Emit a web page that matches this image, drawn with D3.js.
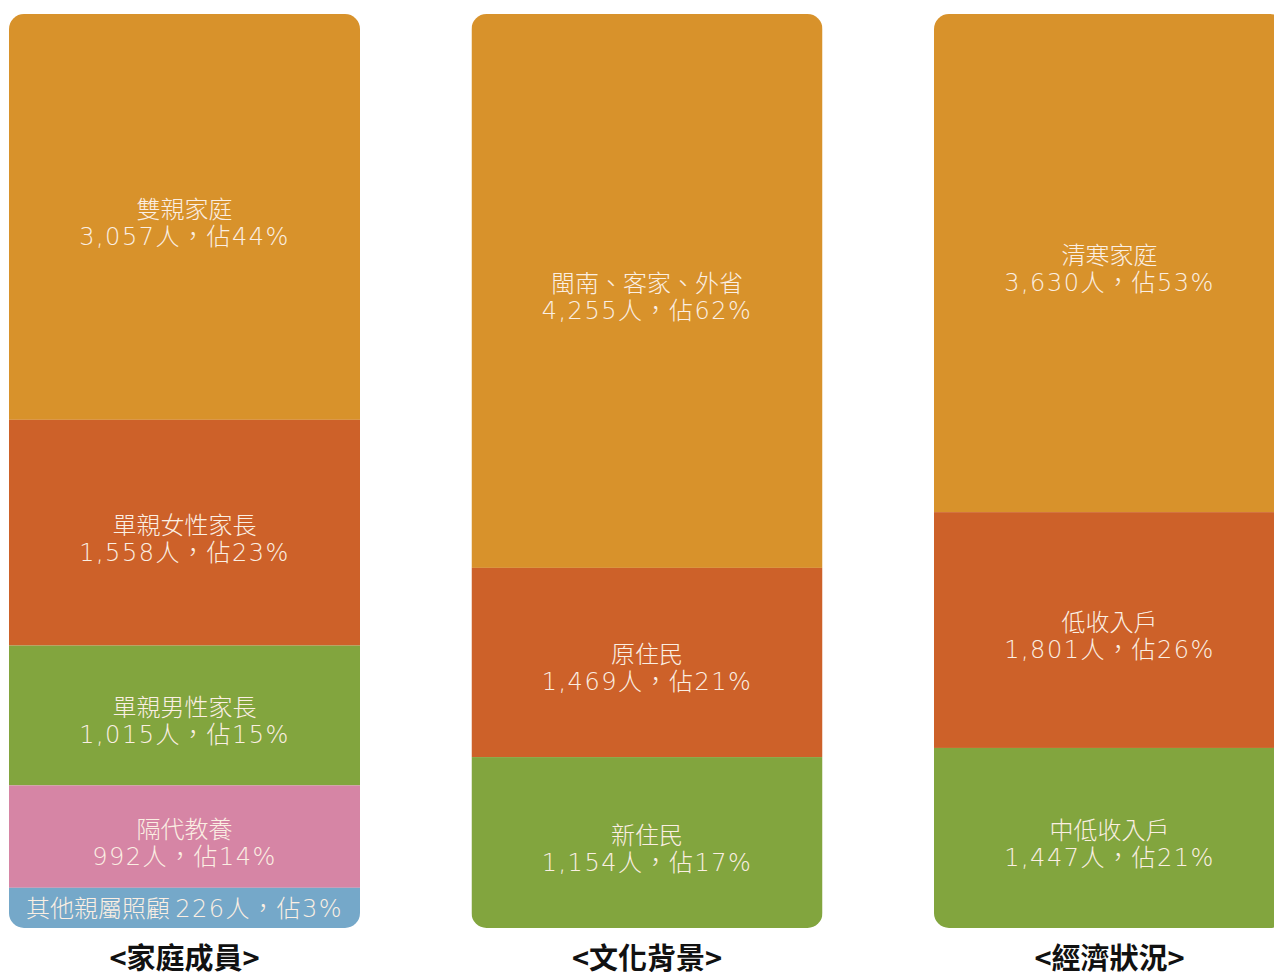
<!DOCTYPE html>
<html>
<head>
<meta charset="utf-8">
<script src="https://cdn.jsdelivr.net/npm/d3@7"></script>
<style>
  html, body { margin: 0; padding: 0; background: #fff; }
  svg { display: block; }
</style>
</head>
<body>
<svg id="chart" width="1274" height="972"></svg>
<script>
// ---- data ----
const groups = ["<家庭成員>", "<文化背景>", "<經濟狀況>"];

const familyLabels = ["雙親家庭", "單親女性家長", "單親男性家長", "隔代教養", "其他親屬照顧"];
const familyCounts = [3057, 1558, 1015, 992, 226];
const familyPct    = [44, 23, 15, 14, 3];
// share of column height as drawn in the reference (%)
const familyShare  = [44.4, 24.7, 15.3, 11.2, 4.4];

const cultureLabels = ["閩南、客家、外省", "原住民", "新住民"];
const cultureCounts = [4255, 1469, 1154];
const culturePct    = [62, 21, 17];
const cultureShare  = [60.6, 20.7, 18.7];

const economyLabels = ["清寒家庭", "低收入戶", "中低收入戶"];
const economyCounts = [3630, 1801, 1447];
const economyPct    = [53, 26, 21];
const economyShare  = [54.5, 25.8, 19.7];

const segColors = ["#D8922B", "#CD6129", "#82A53E", "#D685A5", "#75A8C9"];

// ---- build ----
const columns = [
  {title: groups[0], labels: familyLabels, counts: familyCounts, pct: familyPct, share: familyShare},
  {title: groups[1], labels: cultureLabels, counts: cultureCounts, pct: culturePct, share: cultureShare},
  {title: groups[2], labels: economyLabels, counts: economyCounts, pct: economyPct, share: economyShare}
];

const svg = d3.select("#chart");
const fmt = d3.format(",");

const colWidth = 351;
const x = d3.scalePoint().domain(groups).range([9, 934]);
const y = d3.scaleLinear().domain([0, 100]).range([14, 928]);
const radius = 15;

const labelFont = "'Noto Sans CJK TC', 'Noto Sans', sans-serif";
const numFont = "'DejaVu Sans', 'Noto Sans CJK TC', sans-serif";

const defs = svg.append("defs");

columns.forEach((col, ci) => {
  const x0 = x(col.title);
  const clipId = "clip" + ci;
  defs.append("clipPath").attr("id", clipId)
    .append("rect")
    .attr("x", x0).attr("y", y(0))
    .attr("width", colWidth).attr("height", y(100) - y(0))
    .attr("rx", radius).attr("ry", radius);

  let cum = 0;
  const segs = col.share.map((s, i) => {
    const d = {i, start: cum, end: cum + s, label: col.labels[i], count: col.counts[i], pct: col.pct[i]};
    cum += s;
    return d;
  });

  const g = svg.append("g").attr("clip-path", `url(#${clipId})`);
  g.selectAll("rect").data(segs).join("rect")
    .attr("x", x0)
    .attr("y", d => y(d.start))
    .attr("width", colWidth)
    .attr("height", d => y(d.end) - y(d.start))
    .attr("fill", d => segColors[d.i]);

  const tg = svg.append("g")
    .attr("font-size", 24)
    .attr("fill", "#FBEFE3")
    .attr("text-anchor", "middle");

  segs.forEach(d => {
    const cx = x0 + colWidth / 2;
    const cy = (y(d.start) + y(d.end)) / 2;
    const line2 = `${fmt(d.count)}人，佔${d.pct}%`;
    if (y(d.end) - y(d.start) < 60) {
      const t = tg.append("text")
        .attr("x", cx).attr("y", cy + 9);
      t.append("tspan")
        .attr("font-family", labelFont).attr("font-weight", 300)
        .text(d.label + " ");
      t.append("tspan")
        .attr("font-family", numFont).attr("font-weight", 200)
        .attr("letter-spacing", 1.5)
        .text(line2);
    } else {
      tg.append("text")
        .attr("x", cx).attr("y", cy + 1)
        .attr("font-family", labelFont).attr("font-weight", 300)
        .text(d.label);
      tg.append("text")
        .attr("x", cx).attr("y", cy + 28)
        .attr("font-family", numFont).attr("font-weight", 200)
        .attr("letter-spacing", 1.5)
        .text(line2);
    }
  });

  svg.append("text")
    .attr("x", x0 + colWidth / 2)
    .attr("y", 969)
    .attr("text-anchor", "middle")
    .attr("font-family", "'Noto Sans CJK TC', sans-serif")
    .attr("font-weight", 700)
    .attr("font-size", 29)
    .attr("fill", "#111")
    .text(col.title);
});
</script>
</body>
</html>
